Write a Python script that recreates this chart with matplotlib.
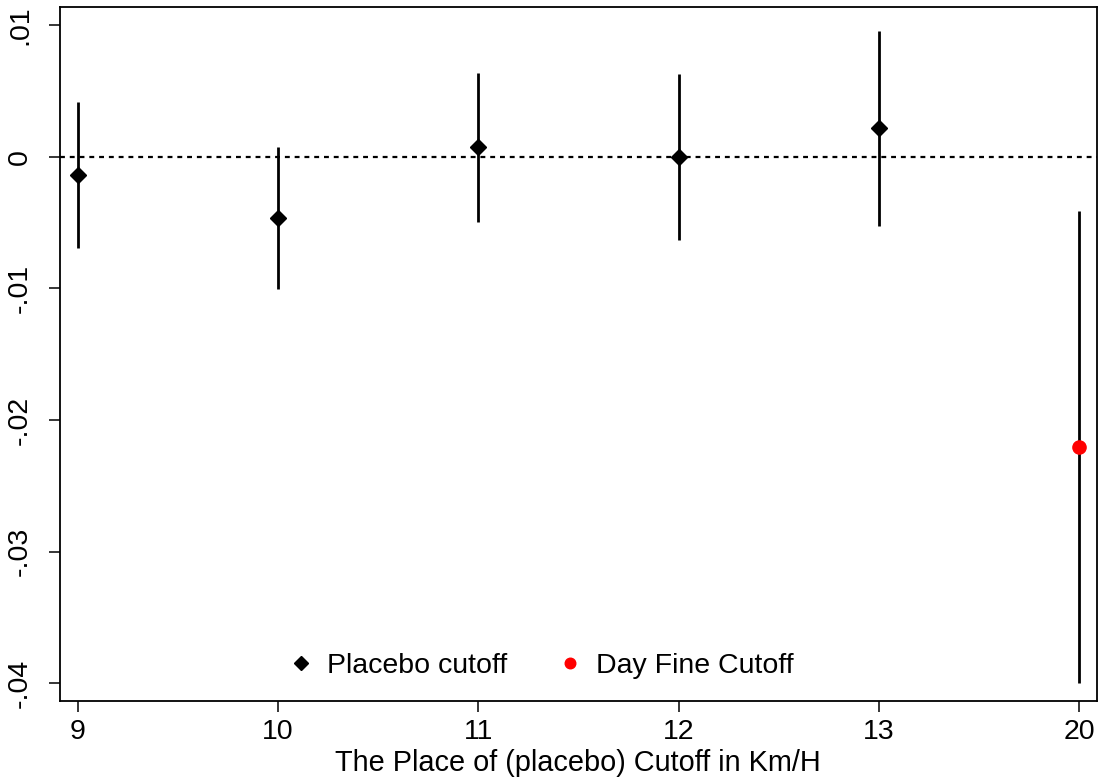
import numpy as np
import matplotlib
matplotlib.use("Agg")
import matplotlib.pyplot as plt
from matplotlib.ticker import FuncFormatter

plt.rcParams['font.family'] = ['Liberation Sans', 'DejaVu Sans']

# estimates and confidence bounds
cutoffs = ['9', '10', '11', '12', '13', '20']
coef = [-0.00137, -0.00468, 0.00071, 0.0000, 0.0022, -0.02204]
ci_low = [-0.00696, -0.01005, -0.00498, -0.0063, -0.00524, -0.0400]
ci_high = [0.00418, 0.00076, 0.00638, 0.00628, 0.00957, -0.0041]
is_real = [False, False, False, False, False, True]

W, H = 1102, 782
fig = plt.figure(figsize=(W / 100, H / 100), dpi=100)
ax = fig.add_axes([59.5 / W, (H - 701) / H, (1097 - 59.5) / W, (701 - 7) / H])

x = np.arange(len(cutoffs))
coef = np.array(coef)
ci_low = np.array(ci_low)
ci_high = np.array(ci_high)
real = np.array(is_real)

ax.axhline(0, color='black', lw=1.6, ls=(0, (2.2, 2.2)), zorder=1)
ax.vlines(x, ci_low, ci_high, color='black', lw=2.0, zorder=2)

ax.plot(x[~real], coef[~real], ls='none', marker='D', ms=8.3, color='black',
        label='Placebo cutoff', zorder=3)
ax.plot(x[real], coef[real], ls='none', marker='o', ms=9.5, color='#ff0000',
        label='Day Fine Cutoff', zorder=3)

ax.set_xlim(-0.091, 5.089)
ax.set_ylim(-0.04133, 0.01137)
ax.set_xticks(x)
ax.set_xticklabels(cutoffs)
ax.set_yticks([0.01, 0, -0.01, -0.02, -0.03, -0.04])


def stata_fmt(v, pos):
    if abs(v) < 1e-12:
        return '0'
    s = '%.2f' % v
    return s.replace('0.', '.')


ax.yaxis.set_major_formatter(FuncFormatter(stata_fmt))
for lab in ax.get_yticklabels():
    lab.set_rotation(90)
    lab.set_va('center')

ax.tick_params(direction='out', length=8, width=1.1, labelsize=20.5)
ax.tick_params(axis='x', pad=5)
ax.tick_params(axis='y', pad=11)
for sp in ax.spines.values():
    sp.set_linewidth(1.3)

ax.set_xlabel('The Place of (placebo) Cutoff in Km/H', fontsize=20.8, labelpad=3)

ax.legend(loc='lower center', ncol=2, frameon=False, fontsize=20.5,
          markerscale=0.8, handlelength=0.6, handletextpad=0.6,
          columnspacing=1.9, bbox_to_anchor=(0.466, -0.005))

fig.savefig('out.png', dpi=100)
